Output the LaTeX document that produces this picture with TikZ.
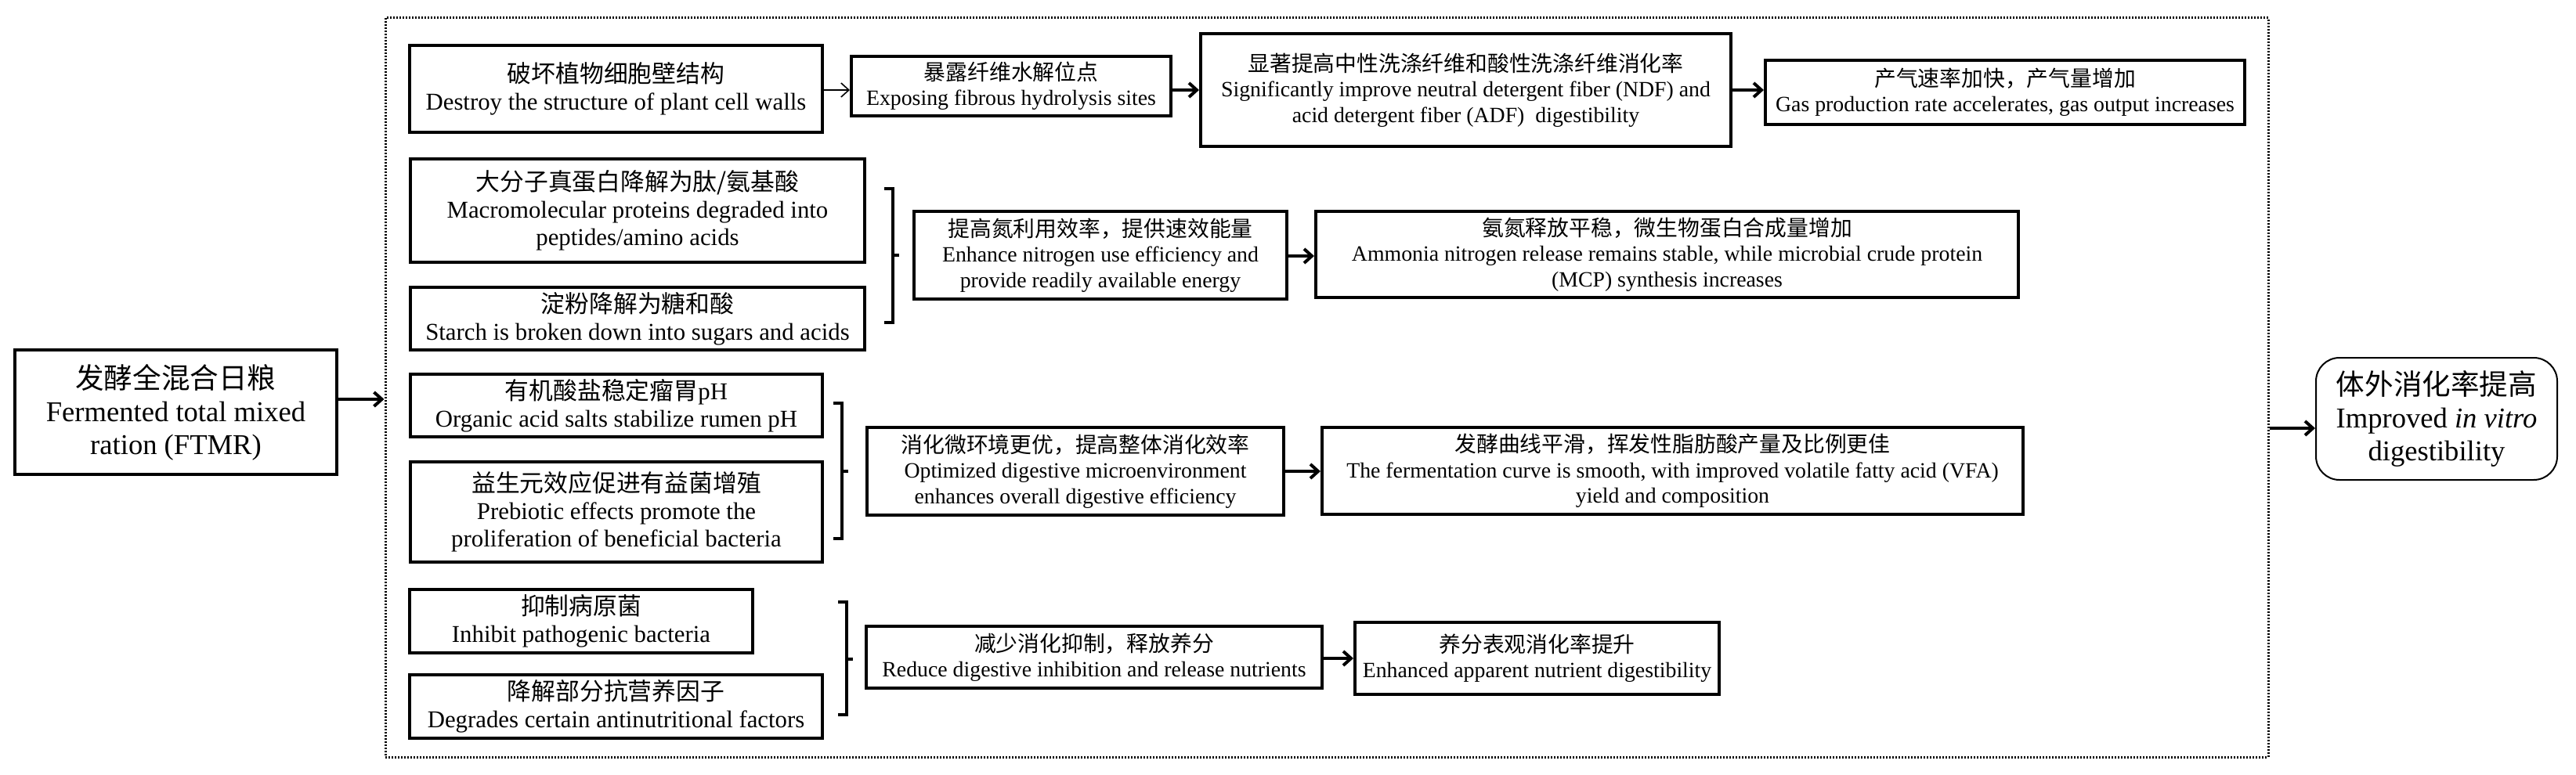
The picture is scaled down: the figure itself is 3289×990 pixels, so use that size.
\documentclass[tikz,border=0pt]{standalone}
\usepackage{fontspec}
\setmainfont{Liberation Serif}
\newfontfamily\cjk{Noto Sans CJK SC}
\usetikzlibrary{arrows.meta}
\newcommand{\mainsz}{\fontsize{15.4}{17.6}\selectfont}
\newcommand{\smsz}{\fontsize{13.9}{16.2}\selectfont}
\newcommand{\bigsz}{\fontsize{18.3}{21}\selectfont}
\newcommand{\boxnode}[7]{\node[#1, minimum width={(#5-#3)*0.5pt}, minimum height={(#6-#4)*0.5pt}] (#2) at ({(#3+#5)/2},{(#4+#6)/2}) {#7};}
\tikzset{
  bx/.style={draw, line width=2pt, inner sep=0pt, align=center, font=\mainsz},
  sbx/.style={draw, line width=2pt, inner sep=0pt, align=center, font=\smsz},
  bigbx/.style={draw, line width=2pt, inner sep=0pt, align=center, font=\bigsz},
  resbx/.style={draw, line width=1pt, rounded corners=15pt, inner sep=0pt, align=center, font=\bigsz},
  grpbx/.style={draw, line width=1.5pt, dash pattern=on 1pt off 1pt, inner sep=0pt},
  arr/.style={line width=2pt, -{Straight Barb[length=5pt,width=9pt,line width=2pt]}},
  thinarr/.style={line width=0.8pt, -{Straight Barb[length=5pt,width=9pt,line width=0.8pt]}},
  brk/.style={line width=2pt}
}
\begin{document}
\begin{tikzpicture}[x=0.5pt,y=-0.5pt]
\useasboundingbox (0,0) rectangle (3289,990);
% group (dotted)
\boxnode{grpbx}{grp}{492}{23}{2896}{967}{}
% input and result
\boxnode{bigbx}{ftmr}{19}{447}{430}{606}{{\cjk 发酵全混合日粮}\\Fermented total mixed\\ration (FTMR)}
\boxnode{resbx}{res}{2957}{457}{3265}{613}{{\cjk 体外消化率提高}\\Improved \textit{in vitro}\\digestibility}
\coordinate (a1) at (0,510);
\coordinate (a2) at (0,547);
\draw[arr] (ftmr.east |- a1) -- (grp.west |- a1);
\draw[arr] (grp.east |- a2) -- (res.west |- a2);
% row 1
\boxnode{bx}{d1}{523}{58}{1050}{169}{{\cjk 破坏植物细胞壁结构}\\Destroy the structure of plant cell walls}
\boxnode{sbx}{d2}{1087}{72}{1495}{148}{{\cjk 暴露纤维水解位点}\\Exposing fibrous hydrolysis sites}
\boxnode{sbx}{d3}{1533}{43}{2210}{187}{{\cjk 显著提高中性洗涤纤维和酸性洗涤纤维消化率}\\Significantly improve neutral detergent fiber (NDF) and\\acid detergent fiber (ADF)~~digestibility}
\boxnode{sbx}{d4}{2254}{77}{2866}{159}{{\cjk 产气速率加快，产气量增加}\\Gas production rate accelerates, gas output increases}
\coordinate (y1) at (0,115);
\draw[thinarr] (d1.east |- y1) -- (d2.west |- y1);
\draw[arr] (d2.east |- y1) -- (d3.west |- y1);
\draw[arr] (d3.east |- y1) -- (d4.west |- y1);
% row 2
\boxnode{bx}{p1}{524}{203}{1104}{335}{{\cjk 大分子真蛋白降解为肽/氨基酸}\\Macromolecular proteins degraded into\\peptides/amino acids}
\boxnode{bx}{p2}{524}{367}{1104}{447}{{\cjk 淀粉降解为糖和酸}\\Starch is broken down into sugars and acids}
\draw[brk] (1129,241) -- (1140,241) -- (1140,412) -- (1129,412);
\draw[brk] (1140,326) -- (1148,326);
\boxnode{sbx}{p3}{1167}{270}{1643}{382}{{\cjk 提高氮利用效率，提供速效能量}\\Enhance nitrogen use efficiency and\\provide readily available energy}
\boxnode{sbx}{p4}{1680}{270}{2577}{380}{{\cjk 氨氮释放平稳，微生物蛋白合成量增加}\\Ammonia nitrogen release remains stable, while microbial crude protein\\(MCP) synthesis increases}
\coordinate (y2) at (0,327);
\draw[arr] (p3.east |- y2) -- (p4.west |- y2);
% row 3
\boxnode{bx}{q1}{524}{478}{1050}{558}{{\cjk 有机酸盐稳定瘤胃}pH\\Organic acid salts stabilize rumen pH}
\boxnode{bx}{q2}{524}{590}{1050}{718}{{\cjk 益生元效应促进有益菌增殖}\\Prebiotic effects promote the\\proliferation of beneficial bacteria}
\draw[brk] (1064,515) -- (1075,515) -- (1075,688) -- (1064,688);
\draw[brk] (1075,602) -- (1083,602);
\boxnode{sbx}{q3}{1107}{546}{1639}{658}{{\cjk 消化微环境更优，提高整体消化效率}\\Optimized digestive microenvironment\\enhances overall digestive efficiency}
\boxnode{sbx}{q4}{1688}{546}{2583}{657}{{\cjk 发酵曲线平滑，挥发性脂肪酸产量及比例更佳}\\The fermentation curve is smooth, with improved volatile fatty acid (VFA)\\yield and composition}
\coordinate (y3) at (0,602);
\draw[arr] (q3.east |- y3) -- (q4.west |- y3);
% row 4
\boxnode{bx}{r1}{523}{753}{961}{834}{{\cjk 抑制病原菌}\\Inhibit pathogenic bacteria}
\boxnode{bx}{r2}{523}{862}{1050}{943}{{\cjk 降解部分抗营养因子}\\Degrades certain antinutritional factors}
\draw[brk] (1070,769) -- (1081,769) -- (1081,913) -- (1070,913);
\draw[brk] (1081,842) -- (1089,842);
\boxnode{sbx}{r3}{1106}{800}{1688}{879}{{\cjk 减少消化抑制，释放养分}\\Reduce digestive inhibition and release nutrients}
\boxnode{sbx}{r4}{1730}{795}{2195}{887}{{\cjk 养分表观消化率提升}\\Enhanced apparent nutrient digestibility}
\coordinate (y4) at (0,841);
\draw[arr] (r3.east |- y4) -- (r4.west |- y4);
\end{tikzpicture}
\end{document}
